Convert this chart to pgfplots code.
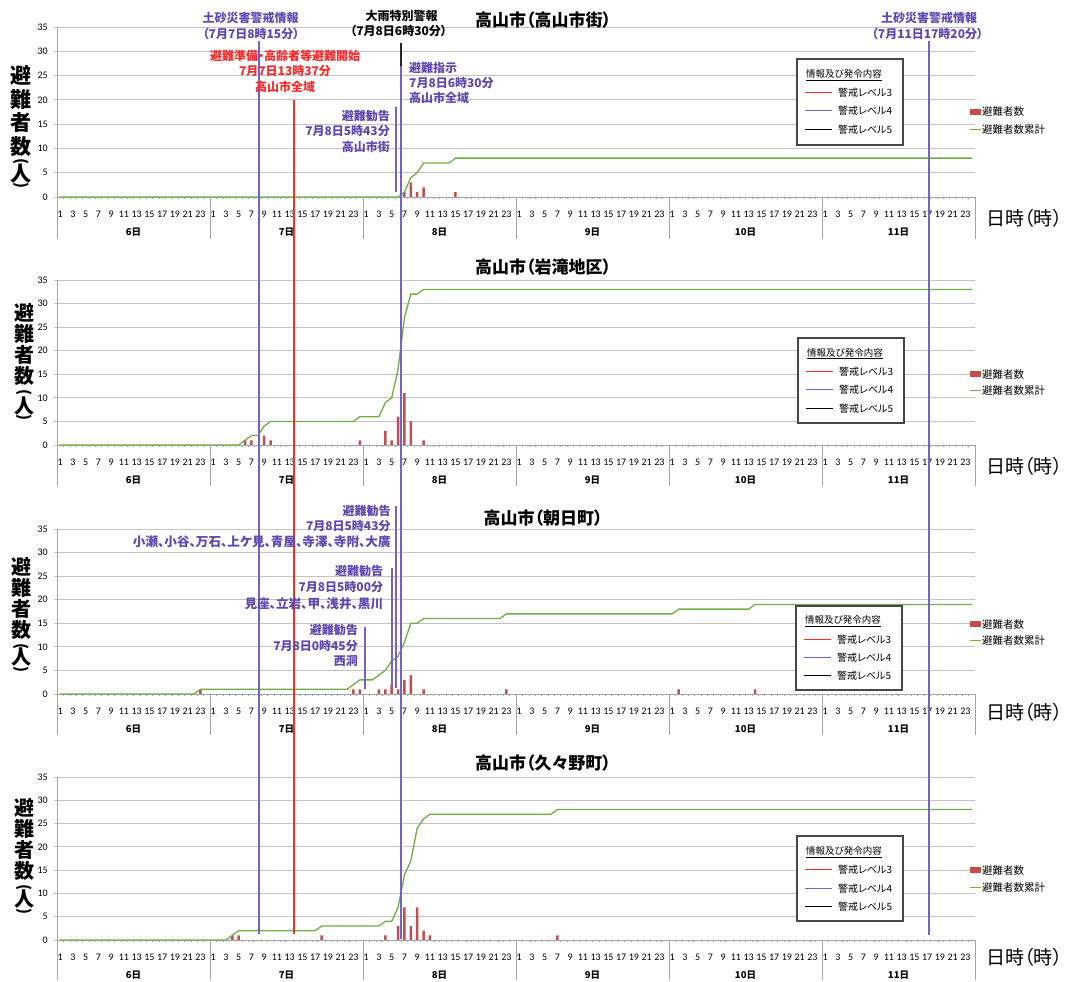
\documentclass[border=0pt]{standalone}
\usepackage{pgfplots}
\pgfplotsset{compat=1.18}
\usepackage{fontspec}
\setmainfont{Noto Sans CJK JP}[RawFeature=+palt]
\newfontfamily\calfont{Carlito}
\definecolor{barred}{RGB}{192,80,77}
\definecolor{lgreen}{RGB}{112,173,71}
\definecolor{lpurple}{RGB}{118,96,204}
\definecolor{tpurple}{RGB}{96,70,176}
\definecolor{tred}{RGB}{250,40,40}
\definecolor{lred}{RGB}{250,45,35}
\definecolor{gridgray}{RGB}{195,195,195}
\definecolor{axisgray}{RGB}{165,165,165}
\definecolor{legborder}{RGB}{70,70,70}
\newcommand\fs[1]{\fontsize{#1}{#1}\selectfont}
\tikzset{daylab/.style={yshift=-35pt, inner sep=0pt, font=\bfseries\fs{9.5}}}
\pgfplotsset{panel/.style={
  scale only axis, width=918pt,
  xmin=0.5, xmax=144.5, ymin=0, ymax=35,
  axis x line*=bottom, axis y line*=left,
  axis line style={draw=axisgray, line width=0.8pt, -},
  ytick={0,5,...,35},
  ymajorgrids, grid style={draw=gridgray, line width=0.8pt},
  xtick={1,3,...,143},
  xticklabel={\pgfmathparse{int(mod(\tick-1,24)+1)}\pgfmathresult},
  minor xtick={0.5,1.5,...,144.5},
  tick align=outside,
  major x tick style={draw=none},
  minor x tick style={draw=axisgray, line width=0.5pt},
  minor tick length=2.5pt,
  major tick length=3pt,
  y tick style={draw=gridgray, line width=0.8pt},
  tick label style={font=\calfont\fs{10}, inner sep=0pt},
  xticklabel style={anchor=center, yshift=-14pt},
  yticklabel style={anchor=east, xshift=-6pt},
  /pgf/number format/assume math mode=true,
  clip=false,
  warn4/.style={color=lpurple, line width=2pt},
  warn3/.style={color=lred, line width=1.8pt},
  warn5/.style={color=black!85, line width=2pt},
}}
\newcommand\dayax{%
 \addplot[axisgray, line width=0.8pt] coordinates {(0.5,0)(0.5,-8.6)};
 \addplot[axisgray, line width=0.8pt] coordinates {(24.5,0)(24.5,-8.6)};
 \addplot[axisgray, line width=0.8pt] coordinates {(48.5,0)(48.5,-8.6)};
 \addplot[axisgray, line width=0.8pt] coordinates {(72.5,0)(72.5,-8.6)};
 \addplot[axisgray, line width=0.8pt] coordinates {(96.5,0)(96.5,-8.6)};
 \addplot[axisgray, line width=0.8pt] coordinates {(120.5,0)(120.5,-8.6)};
 \addplot[axisgray, line width=0.8pt] coordinates {(144.5,0)(144.5,-8.6)};
 \node[daylab] at (axis cs:12.5,0) {6日};
 \node[daylab] at (axis cs:36.5,0) {7日};
 \node[daylab] at (axis cs:60.5,0) {8日};
 \node[daylab] at (axis cs:84.5,0) {9日};
 \node[daylab] at (axis cs:108.5,0) {10日};
 \node[daylab] at (axis cs:132.5,0) {11日};
}
\newcommand\through[1]{%
 \addplot[warn4] coordinates {(32.25,35)(32.25,#1)};
 \addplot[warn3] coordinates {(37.617,35)(37.617,#1)};
 \addplot[warn4] coordinates {(54.5,35)(54.5,#1)};
 \addplot[warn4] coordinates {(137.333,35)(137.333,#1)};
}
\newcommand\ylab[9]{%
 \node[inner sep=0pt, font=\bfseries\fs{#2}] at (#1,#3) {避};
 \node[inner sep=0pt, font=\bfseries\fs{#2}] at (#1,#4) {難};
 \node[inner sep=0pt, font=\bfseries\fs{#2}] at (#1,#5) {者};
 \node[inner sep=0pt, font=\bfseries\fs{#2}] at (#1,#6) {数};
 \node[inner sep=0pt, font=\bfseries\fs{15}] at (#1,#7) {\rotatebox{-90}{(}};
 \node[inner sep=0pt, font=\bfseries\fs{#2}] at (#1,#8) {人};
 \node[inner sep=0pt, font=\bfseries\fs{15}] at (#1,#9) {\rotatebox{-90}{)}};
}
\newcommand\legboxg[7]{%
 \draw[draw=legborder, line width=1.1pt, fill=white] (#1,#2) rectangle (#3,#4);
 \draw[draw=lred, line width=1.8pt] ({#1+8},#5) -- ({#1+35},#5);
 \draw[draw=lpurple, line width=1.8pt] ({#1+8},#6) -- ({#1+35},#6);
 \draw[draw=black, line width=1.6pt] ({#1+8},#7) -- ({#1+35},#7);
}
\newcommand\legboxt[5]{%
 \node[anchor=west, inner sep=0pt, font=\fs{9.5}] at ({#1+9},#2) {\underline{情報及び発令内容}};
 \node[anchor=west, inner sep=0pt, font=\fs{10}] at ({#1+41},#3) {警戒レベル3};
 \node[anchor=west, inner sep=0pt, font=\fs{10}] at ({#1+41},#4) {警戒レベル4};
 \node[anchor=west, inner sep=0pt, font=\fs{10}] at ({#1+41},#5) {警戒レベル5};
}
\newcommand\serlegg[2]{%
 \fill[fill=barred] (970,{#1-3}) rectangle (981,{#1+3});
 \draw[draw=lgreen, line width=1.6pt] (970,#2) -- (981,#2);
}
\newcommand\serlegt[2]{%
 \node[anchor=west, inner sep=0pt, font=\fs{10.5}] at (982,#1) {避難者数};
 \node[anchor=west, inner sep=0pt, font=\fs{10.5}] at (982,#2) {避難者数累計};
}
\begin{document}
\begin{tikzpicture}
\useasboundingbox (0,0) rectangle (1073pt,982pt);
% ---------- Panel 1
\begin{axis}[panel, height=170pt, at={(57pt,785pt)}, anchor=south west]
 \addplot[ybar, bar width=2.4pt, fill=barred, draw=none] coordinates {(55,1)(56,3)(57,1)(58,2)(63,1)};
 \addplot[lgreen, line width=1.3pt] coordinates {(1,0)(54,0)(55,1)(56,4)(57,5)(58,7)(62,7)(63,8)(144,8)};
 \addplot[warn4] coordinates {(32.25,32.2)(32.25,-17.09)};
 \addplot[warn3] coordinates {(37.617,20)(37.617,-17.09)};
 \addplot[warn5] coordinates {(54.5,31.8)(54.5,26.9)};
 \addplot[warn4] coordinates {(54.5,26.9)(54.5,-17.09)};
 \addplot[warn4] coordinates {(137.333,32.2)(137.333,-17.09)};
 \addplot[warn4] coordinates {(53.717,1)(53.717,18.5)};
 \dayax
\end{axis}
% ---------- Panel 2
\begin{axis}[panel, height=165pt, at={(57pt,537pt)}, anchor=south west]
 \addplot[ybar, bar width=2.4pt, fill=barred, draw=none] coordinates {(30,1)(31,1)(33,2)(34,1)(48,1)(52,3)(53,1)(54,6)(55,11)(56,5)(58,1)};
 \addplot[lgreen, line width=1.3pt] coordinates {(1,0)(29,0)(30,1)(31,2)(32,2)(33,4)(34,5)(47,5)(48,6)(51,6)(52,9)(53,10)(54,16)(55,27)(56,32)(57,32)(58,33)(144,33)};
 \through{-17.82}
 \dayax
\end{axis}
% ---------- Panel 3
\begin{axis}[panel, height=165pt, at={(57pt,288pt)}, anchor=south west]
 \addplot[ybar, bar width=2.4pt, fill=barred, draw=none] coordinates {(23,1)(47,1)(48,1)(51,1)(52,1)(53,2)(54,1)(55,3)(56,4)(58,1)(71,1)(98,1)(110,1)};
 \addplot[lgreen, line width=1.3pt] coordinates {(1,0)(22,0)(23,1)(46,1)(47,2)(48,3)(50,3)(51,4)(52,5)(53,7)(54,8)(55,11)(56,15)(57,15)(58,16)(70,16)(71,17)(97,17)(98,18)(109,18)(110,19)(144,19)};
 \through{-17.61}
 \addplot[warn4] coordinates {(53.717,1.2)(53.717,39.9)};
 \addplot[warn4] coordinates {(53.0,1.5)(53.0,26.7)};
 \addplot[warn4] coordinates {(48.75,1)(48.75,14.3)};
 \dayax
\end{axis}
% ---------- Panel 4
\begin{axis}[panel, height=163pt, at={(57pt,42pt)}, anchor=south west]
 \addplot[ybar, bar width=2.4pt, fill=barred, draw=none] coordinates {(28,1)(29,1)(42,1)(52,1)(54,3)(55,7)(56,3)(57,7)(58,2)(59,1)(79,1)};
 \addplot[lgreen, line width=1.3pt] coordinates {(1,0)(27,0)(28,1)(29,2)(41,2)(42,3)(51,3)(52,4)(53,4)(54,7)(55,14)(56,17)(57,24)(58,26)(59,27)(78,27)(79,28)(144,28)};
 \addplot[warn4] coordinates {(32.25,35)(32.25,1.2)};
 \addplot[warn3] coordinates {(37.617,35)(37.617,1.2)};
 \addplot[warn4] coordinates {(54.5,35)(54.5,0.2)};
 \addplot[warn4] coordinates {(137.333,35)(137.333,1)};
 \dayax
\end{axis}
% ---------- legends and texts in image coordinates
\begin{scope}[shift={(0,982pt)}, x=1pt, y=-1pt]
 \tikzset{tp/.style={inner sep=0pt, text=tpurple, font=\bfseries\fs{12}},
          tr/.style={inner sep=0pt, text=tred, font=\bfseries\fs{12}},
          tk/.style={inner sep=0pt, text=black, font=\bfseries\fs{12}},
          ttl/.style={inner sep=0pt, font=\bfseries\fs{17}},
          nj/.style={inner sep=0pt, anchor=west, font=\fs{19}}}
 \legboxg{797}{59}{903}{145}{92.5}{110.5}{129.5}
 \legboxg{798}{338}{904}{423}{371.5}{389.5}{408.5}
 \legboxg{796}{606}{902}{690}{639.5}{657.5}{675.5}
 \legboxg{797}{836}{903}{921}{869.5}{888.5}{906.5}
 \serlegg{112}{129.5}
 \serlegg{374.5}{390.5}
 \serlegg{624.5}{640.5}
 \serlegg{870.5}{887.5}
 \legboxt{797}{75}{92.5}{110.5}{129.5}
 \legboxt{798}{353.5}{371.5}{389.5}{408.5}
 \legboxt{796}{621}{639.5}{657.5}{675.5}
 \legboxt{797}{852}{869.5}{888.5}{906.5}
 \serlegt{112}{129.5}
 \serlegt{374.5}{390.5}
 \serlegt{624.5}{640.5}
 \serlegt{870.5}{887.5}
 \node[ttl] at (543,20) {高山市（高山市街）};
 \node[ttl] at (543,267.5) {高山市（岩滝地区）};
 \node[ttl] at (543,518.5) {高山市（朝日町）};
 \node[ttl] at (543,763.5) {高山市（久々野町）};
 \node[nj] at (986,218.5) {日時（時）};
 \node[nj] at (986,466.5) {日時（時）};
 \node[nj] at (986,712.5) {日時（時）};
 \node[nj] at (986,957.5) {日時（時）};
 \ylab{21}{21}{75.7}{99.5}{123}{146.5}{161.5}{173.3}{185.5}
 \ylab{24}{20}{313}{334}{355}{376}{393}{406}{418}
 \ylab{21}{20}{566.7}{588}{608.7}{630}{646.7}{657.5}{670}
 \ylab{24}{20}{808}{829}{850}{871}{888}{899.5}{911.7}
 \node[tp] at (250.5,17.5) {土砂災害警戒情報};
 \node[tp] at (251,33.5) {（7月7日8時15分）};
 \node[tk] at (401.5,15.5) {大雨特別警報};
 \node[tk] at (398.6,31) {（7月8日6時30分）};
 \node[tp] at (929,18) {土砂災害警戒情報};
 \node[tp] at (927.5,34) {（7月11日17時20分）};
 \node[tr] at (285,55.7) {避難準備・高齢者等避難開始};
 \node[tr] at (285,71) {7月7日13時37分};
 \node[tr] at (285,87.3) {高山市全域};
 \node[tp, anchor=west] at (409,67.7) {避難指示};
 \node[tp, anchor=west] at (409,82.5) {7月8日6時30分};
 \node[tp, anchor=west] at (409,98.3) {高山市全域};
 \node[tp, anchor=east] at (390,116) {避難勧告};
 \node[tp, anchor=east] at (390,131) {7月8日5時43分};
 \node[tp, anchor=east] at (390,146.7) {高山市街};
 \node[tp, anchor=east] at (390.8,510.7) {避難勧告};
 \node[tp, anchor=east] at (390.8,526) {7月8日5時43分};
 \node[tp, anchor=east, font=\bfseries\fs{12.6}] at (390.8,541.7) {小瀬、小谷、万石、上ケ見、青屋、寺澤、寺附、大廣};
 \node[tp, anchor=east] at (383.3,571) {避難勧告};
 \node[tp, anchor=east] at (383.3,587.3) {7月8日5時00分};
 \node[tp, anchor=east, font=\bfseries\fs{12.6}] at (383.3,603.3) {見座、立岩、甲、浅井、黒川};
 \node[tp, anchor=east] at (358,630) {避難勧告};
 \node[tp, anchor=east] at (358,646) {7月8日0時45分};
 \node[tp, anchor=east] at (358,661.3) {西洞};
\end{scope}
\end{tikzpicture}
\end{document}
